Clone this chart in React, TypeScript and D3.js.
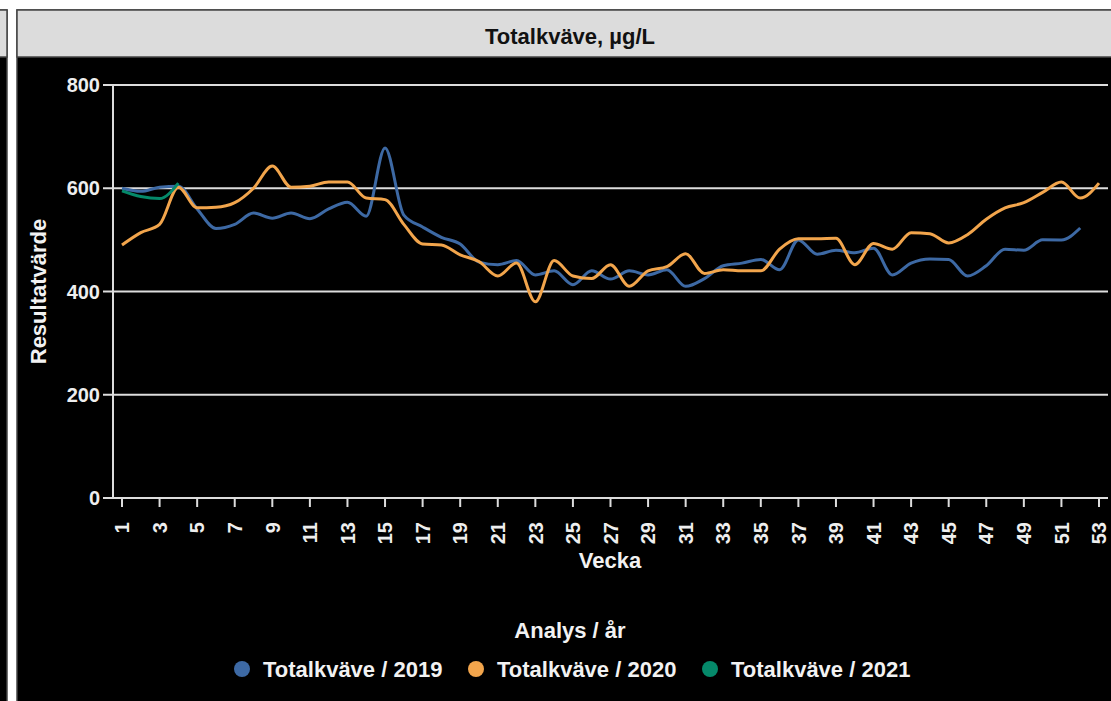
import * as d3 from "d3";

const WIDTH = 1111;
const HEIGHT = 701;

// plot area (pixels)
const PLOT = { left: 113, right: 1108, top: 85, bottom: 498 };

const TITLE = "Totalkväve, µg/L";
const Y_TITLE = "Resultatvärde";
const X_TITLE = "Vecka";
const LEGEND_TITLE = "Analys / år";

const yTicks = [0, 200, 400, 600, 800];
const xTicks = d3.range(1, 54, 2);

const weeks2019 = d3.range(1, 53);
const values2019 = [
  600, 594, 602, 604, 560, 522, 530, 552, 542, 552, 541, 560, 573, 546, 678, 548,
  525, 505, 492, 457, 452, 460, 432, 440, 413, 440, 424, 440, 432, 442, 410, 425,
  450, 455, 462, 442, 500, 472, 480, 475, 484, 432, 455, 463, 462, 430, 450, 482,
  480, 500, 500, 523,
];

const weeks2020 = d3.range(1, 54);
const values2020 = [
  490, 514, 530, 602, 562, 563, 572, 600, 643, 602, 604, 612, 612, 581, 578, 530,
  492, 490, 471, 458, 430, 455, 380, 460, 430, 425, 452, 410, 440, 448, 473, 435,
  442, 440, 440, 482, 502, 502, 503, 452, 493, 482, 514, 512, 494, 510, 540, 562,
  572, 592, 612, 581, 610,
];

const weeks2021 = [1, 2, 3, 4];
const values2021 = [595, 584, 580, 610];

const seriesNames = ["Totalkväve / 2019", "Totalkväve / 2020", "Totalkväve / 2021"];
const seriesColors = ["#3d69a4", "#f2a54c", "#05896a"];

const FONT = "'Liberation Sans', Arial, sans-serif";

export default function App() {
  const xScale = d3.scaleLinear().domain([1, 53]).range([122, 1099]);
  const yScale = d3.scaleLinear().domain([0, 800]).range([PLOT.bottom, PLOT.top]);

  const line = d3
    .line<[number, number]>()
    .x((d) => xScale(d[0]))
    .y((d) => yScale(d[1]))
    .curve(d3.curveMonotoneX);

  const series = [
    weeks2019.map((w, i) => [w, values2019[i]] as [number, number]),
    weeks2020.map((w, i) => [w, values2020[i]] as [number, number]),
    weeks2021.map((w, i) => [w, values2021[i]] as [number, number]),
  ];

  const center = 570;
  const legendStart = 242;
  const legendStep = 234;

  return (
    <svg
      width={WIDTH}
      height={HEIGHT}
      style={{ position: "absolute", left: 0, top: 0, display: "block", background: "#fff" }}
      fontFamily={FONT}
    >
      {/* neighbouring panel on the left, mostly cut off */}
      <rect x={-20} y={10} width={27} height={HEIGHT} fill="#000" stroke="#444" strokeWidth={1.5} />
      <rect x={-20} y={10} width={27} height={47} fill="#dcdcdc" stroke="#444" strokeWidth={1.5} />

      {/* main panel */}
      <rect x={17} y={10} width={WIDTH} height={HEIGHT} fill="#000" stroke="#444" strokeWidth={1.5} />
      <rect x={17} y={10} width={WIDTH} height={47} fill="#dcdcdc" stroke="#444" strokeWidth={1.5} />
      <text x={center} y={44} textAnchor="middle" fontSize={22} fontWeight="bold" fill="#111">
        {TITLE}
      </text>

      {/* y grid + labels */}
      {yTicks.map((t) => (
        <g key={t}>
          {t > 0 && (
            <line x1={PLOT.left} x2={PLOT.right} y1={yScale(t)} y2={yScale(t)} stroke="#ddd" strokeWidth={2} />
          )}
          <line x1={PLOT.left - 10} x2={PLOT.left} y1={yScale(t)} y2={yScale(t)} stroke="#ddd" strokeWidth={2} />
          <text
            x={PLOT.left - 13}
            y={yScale(t)}
            dy="0.36em"
            textAnchor="end"
            fontSize={20}
            fontWeight="bold"
            fill="#eee"
          >
            {t}
          </text>
        </g>
      ))}

      {/* axes */}
      <line x1={PLOT.left} x2={PLOT.left} y1={PLOT.top} y2={PLOT.bottom} stroke="#ddd" strokeWidth={2} />
      <line x1={PLOT.left} x2={PLOT.right} y1={PLOT.bottom} y2={PLOT.bottom} stroke="#ddd" strokeWidth={2} />

      {xTicks.map((t) => (
        <g key={t} transform={`translate(${xScale(t)},0)`}>
          <line y1={PLOT.bottom} y2={PLOT.bottom + 9} stroke="#ddd" strokeWidth={2} />
          <text
            transform={`translate(0,${PLOT.bottom + 24}) rotate(-90)`}
            dy="0.36em"
            textAnchor="end"
            fontSize={20}
            fontWeight="bold"
            fill="#eee"
          >
            {t}
          </text>
        </g>
      ))}

      {/* axis titles */}
      <text x={center + 40} y={568} textAnchor="middle" fontSize={22} fontWeight="bold" fill="#f2f2f2">
        {X_TITLE}
      </text>
      <text
        transform={`translate(46,${(PLOT.top + PLOT.bottom) / 2}) rotate(-90)`}
        textAnchor="middle"
        fontSize={22}
        fontWeight="bold"
        fill="#f2f2f2"
      >
        {Y_TITLE}
      </text>

      {/* series */}
      {series.map((s, i) => (
        <path key={i} d={line(s) ?? ""} fill="none" stroke={seriesColors[i]} strokeWidth={3} strokeLinejoin="round" />
      ))}

      {/* legend */}
      <text x={center} y={638} textAnchor="middle" fontSize={22} fontWeight="bold" fill="#f2f2f2">
        {LEGEND_TITLE}
      </text>
      {seriesNames.map((name, i) => (
        <g key={name} transform={`translate(${legendStart + i * legendStep},669)`}>
          <circle r={8} fill={seriesColors[i]} />
          <text x={21} dy="0.36em" fontSize={22} fontWeight="bold" fill="#f2f2f2">
            {name}
          </text>
        </g>
      ))}
    </svg>
  );
}
